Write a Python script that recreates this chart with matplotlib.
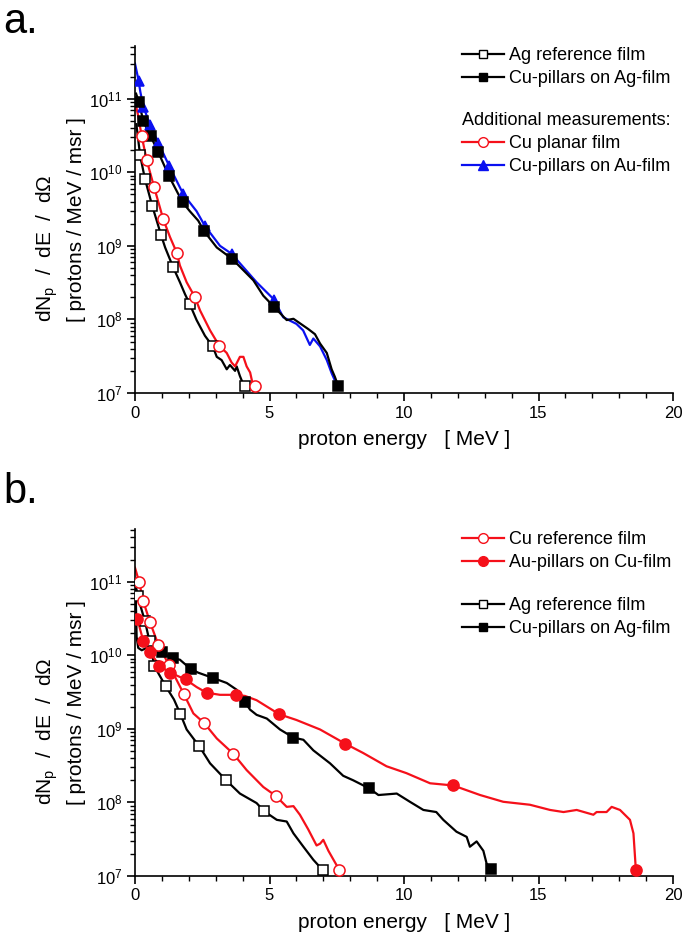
import matplotlib
matplotlib.use('Agg')
import matplotlib.pyplot as plt
from matplotlib.lines import Line2D
from matplotlib.ticker import LogLocator, MultipleLocator, NullFormatter

plt.rcParams['font.family'] = ['Liberation Sans', 'DejaVu Sans']
plt.rcParams['mathtext.fontset'] = 'custom'
plt.rcParams['mathtext.rm'] = 'Liberation Sans'
plt.rcParams['mathtext.it'] = 'Liberation Sans:italic'
plt.rcParams['mathtext.default'] = 'regular'

# ---------------- panel a data (energy in MeV, dN/dE/dOmega) ----------------
a_ag_ref_E = [0.05, 0.19, 0.37, 0.64, 0.97, 1.12, 1.42, 1.67, 1.86, 2.04, 2.29, 2.6, 2.89, 3.04,
              3.22, 3.41, 3.53, 3.72, 3.78, 3.9, 4.03, 4.1]
a_ag_ref_N = [4.5e10, 1.7e10, 8.1e9, 3.5e9, 1.4e9, 9.5e8, 5.1e8, 3.2e8, 2.2e8, 1.6e8, 9.8e7, 6.0e7,
              4.3e7, 3.1e7, 2.8e7, 2.1e7, 2.4e7, 2.0e7, 2.3e7, 1.7e7, 1.3e7, 1.23e7]
a_ag_ref_mE = [0.19, 0.37, 0.64, 0.97, 1.42, 2.04, 2.89, 4.1]
a_ag_ref_mN = [1.7e10, 8.1e9, 3.5e9, 1.4e9, 5.1e8, 1.6e8, 4.3e7, 1.23e7]

a_cu_ag_E = [0.04, 0.15, 0.31, 0.58, 0.87, 1.26, 1.77, 2.04, 2.35, 2.57, 3.04, 3.62, 4.4, 4.77,
             5.17, 5.64, 5.89, 6.44, 6.69, 6.88, 7.13, 7.31, 7.43, 7.56]
a_cu_ag_N = [1.17e11, 8.9e10, 4.9e10, 3.1e10, 1.86e10, 8.9e9, 3.9e9, 2.95e9, 2.2e9, 1.58e9, 9.5e8,
             6.6e8, 3.4e8, 2.1e8, 1.48e8, 9.8e7, 1.02e8, 7.4e7, 6.3e7, 4.7e7, 3.5e7, 2.1e7, 1.66e7, 1.23e7]
a_cu_ag_mE = [0.15, 0.31, 0.58, 0.87, 1.26, 1.77, 2.57, 3.62, 5.17, 7.56]
a_cu_ag_mN = [8.9e10, 4.9e10, 3.1e10, 1.86e10, 8.9e9, 3.9e9, 1.58e9, 6.6e8, 1.48e8, 1.23e7]

a_cu_planar_E = [0.0, 0.1, 0.25, 0.43, 0.71, 1.05, 1.3, 1.55, 1.67, 1.92, 2.23, 2.42, 2.79, 3.13,
                 3.41, 3.59, 3.72, 3.9, 4.03, 4.15, 4.28, 4.37, 4.46]
a_cu_planar_N = [9.1e10, 6.3e10, 3.1e10, 1.48e10, 6.3e9, 2.3e9, 1.32e9, 8.1e8, 5.4e8, 3.2e8, 2.0e8,
                 1.32e8, 7.1e7, 4.4e7, 3.5e7, 2.6e7, 2.3e7, 3.1e7, 3.1e7, 2.3e7, 1.9e7, 1.35e7, 1.23e7]
a_cu_planar_mE = [0.25, 0.43, 0.71, 1.05, 1.55, 2.23, 3.13, 4.46]
a_cu_planar_mN = [3.1e10, 1.48e10, 6.3e9, 2.3e9, 8.1e8, 2.0e8, 4.4e7, 1.23e7]

a_cu_au_E = [0.0, 0.12, 0.2, 0.31, 0.56, 0.87, 1.28, 1.8, 2.29, 2.6, 3.16, 3.59, 4.52, 5.17, 5.51,
             6.0, 6.25, 6.5, 6.63, 6.88, 7.13, 7.31, 7.49, 7.56]
a_cu_au_N = [3.0e11, 1.86e11, 1.23e11, 7.8e10, 4.4e10, 2.5e10, 1.2e10, 5.0e9, 2.95e9, 1.86e9, 1.0e9,
             7.8e8, 3.2e8, 1.86e8, 1.07e8, 8.7e7, 7.1e7, 4.5e7, 5.5e7, 4.3e7, 2.8e7, 1.86e7, 1.32e7, 1.23e7]
a_cu_au_mE = [0.16, 0.31, 0.56, 0.87, 1.28, 1.8, 2.6, 3.59, 5.17]
a_cu_au_mN = [1.74e11, 7.8e10, 4.4e10, 2.5e10, 1.2e10, 5.0e9, 1.86e9, 7.8e8, 1.86e8]

# ---------------- panel b data ----------------
b_cu_ref_E = [0.0, 0.15, 0.31, 0.56, 0.87, 1.26, 1.82, 2.17, 2.57, 3.04, 3.65, 4.15, 4.77, 5.23,
              5.64, 5.89, 6.13, 6.44, 6.75, 6.88, 7.0, 7.19, 7.38, 7.6]
b_cu_ref_N = [1.55e11, 1.0e11, 5.4e10, 2.8e10, 1.38e10, 7.4e9, 2.95e9, 1.62e9, 1.2e9, 7.4e8, 4.6e8,
              2.75e8, 1.62e8, 1.23e8, 8.7e7, 8.9e7, 6.8e7, 4.3e7, 2.6e7, 2.75e7, 3.1e7, 2.2e7, 1.66e7, 1.2e7]
b_cu_ref_mE = [0.15, 0.31, 0.56, 0.87, 1.26, 1.82, 2.57, 3.65, 5.23, 7.6]
b_cu_ref_mN = [1.0e11, 5.4e10, 2.8e10, 1.38e10, 7.4e9, 2.95e9, 1.2e9, 4.6e8, 1.23e8, 1.2e7]

b_au_cu_E = [0.04, 0.09, 0.31, 0.56, 0.9, 1.3, 1.88, 2.29, 2.66, 3.16, 3.75, 4.09, 4.52, 5.36, 6.0,
             6.88, 7.81, 8.48, 9.35, 10.09, 10.97, 11.83, 12.83, 13.69, 14.68, 15.43, 15.93, 16.42,
             17.04, 17.16, 17.53, 17.72, 18.03, 18.4, 18.53, 18.62]
b_au_cu_N = [3.2e10, 3.1e10, 1.55e10, 1.12e10, 7.2e9, 5.8e9, 4.7e9, 3.7e9, 3.1e9, 2.9e9, 2.9e9,
             2.8e9, 2.45e9, 1.58e9, 1.32e9, 9.8e8, 6.3e8, 4.7e8, 3.1e8, 2.5e8, 1.82e8, 1.7e8, 1.26e8,
             1.02e8, 9.3e7, 7.9e7, 7.4e7, 7.9e7, 6.8e7, 7.4e7, 7.4e7, 8.7e7, 7.9e7, 5.8e7, 3.8e7, 1.2e7]
b_au_cu_mE = [0.09, 0.31, 0.56, 0.9, 1.3, 1.88, 2.66, 3.75, 5.36, 7.81, 11.83, 18.62]
b_au_cu_mN = [3.1e10, 1.55e10, 1.12e10, 7.2e9, 5.8e9, 4.7e9, 3.1e9, 2.9e9, 1.58e9, 6.3e8, 1.7e8, 1.2e7]

b_ag_ref_E = [0.03, 0.1, 0.37, 0.54, 0.72, 1.14, 1.45, 1.69, 1.92, 2.17, 2.39, 2.79, 3.39, 3.9,
              4.52, 4.8, 5.27, 5.64, 5.89, 6.26, 6.63, 6.98]
b_ag_ref_N = [8.9e10, 6.3e10, 2.9e10, 1.55e10, 7.1e9, 3.8e9, 2.5e9, 1.58e9, 9.8e8, 7.4e8, 5.8e8,
              3.4e8, 2.0e8, 1.32e8, 9.8e7, 7.6e7, 5.8e7, 5.5e7, 3.8e7, 2.5e7, 1.66e7, 1.2e7]
b_ag_ref_mE = [0.1, 0.37, 0.54, 0.72, 1.14, 1.69, 2.39, 3.39, 4.8, 6.98]
b_ag_ref_mN = [6.3e10, 2.9e10, 1.55e10, 7.1e9, 3.8e9, 1.58e9, 5.8e8, 2.0e8, 7.6e7, 1.2e7]

b_cu_ag_E = [0.02, 0.06, 0.12, 0.25, 0.56, 0.99, 1.18, 1.42, 1.67, 2.07, 2.35, 2.91, 3.41, 3.78,
             4.09, 4.28, 4.52, 4.9, 5.39, 5.89, 6.26, 6.63, 7.25, 7.74, 8.11, 8.71, 9.05, 9.73, 10.22,
             10.72, 11.2, 11.46, 11.95, 12.33, 12.45, 12.7, 12.95, 13.07, 13.23]
b_cu_ag_N = [8.9e10, 1.78e10, 1.26e10, 1.17e10, 1.32e10, 1.1e10, 1.0e10, 9.1e9, 8.7e9, 6.5e9, 5.8e9,
             4.9e9, 4.2e9, 3.4e9, 2.3e9, 1.82e9, 1.55e9, 1.38e9, 9.8e8, 7.6e8, 7.1e8, 5.1e8, 3.4e8,
             2.3e8, 2.0e8, 1.55e8, 1.26e8, 1.32e8, 1.02e8, 7.9e7, 7.4e7, 5.8e7, 4.0e7, 3.4e7, 2.5e7,
             2.95e7, 2.2e7, 1.48e7, 1.23e7]
b_cu_ag_mE = [0.99, 1.42, 2.07, 2.91, 4.09, 5.89, 8.71, 13.23]
b_cu_ag_mN = [1.1e10, 9.1e9, 6.5e9, 4.9e9, 2.3e9, 7.6e8, 1.55e8, 1.23e7]

RED = '#f5101a'
BLUE = '#0a10f0'

W, H = 685, 942
fig = plt.figure(figsize=(W / 100, H / 100), dpi=100)


def make_axes(top_px, bottom_px):
    ax = fig.add_axes([135 / W, 1 - bottom_px / H, (673 - 135) / W, (bottom_px - top_px) / H])
    ax.set_yscale('log')
    ax.set_xlim(0, 20)
    ax.set_ylim(1e7, 5.2e11)
    for s in ['top', 'right']:
        ax.spines[s].set_visible(False)
    for s in ['left', 'bottom']:
        ax.spines[s].set_linewidth(1.2)
    ax.xaxis.set_major_locator(MultipleLocator(5))
    ax.xaxis.set_minor_locator(MultipleLocator(1))
    ax.yaxis.set_major_locator(LogLocator(base=10, numticks=10))
    ax.yaxis.set_minor_locator(LogLocator(base=10, subs=range(2, 10), numticks=20))
    ax.yaxis.set_minor_formatter(NullFormatter())
    ax.tick_params(which='major', direction='out', length=6, width=1.2, labelsize=12, pad=3)
    ax.tick_params(which='minor', direction='out', length=3.5, width=1.0)
    ax.set_xlabel('proton energy   [ MeV ]', fontsize=15, labelpad=7)
    return ax


def curve(ax, E, N, mE, mN, color, marker, filled, ms):
    # line first, then the few symbols Origin puts along it
    ax.plot(E, N, color=color, lw=1.6, zorder=2)
    ax.plot(mE, mN, ls='none', marker=marker, ms=ms, mec=color,
            mfc=color if filled else 'white', mew=1.1, zorder=3)


def handle(color, marker, filled, ms):
    return Line2D([], [], color=color, lw=1.6, marker=marker, ms=ms - 1, mec=color,
                  mfc=color if filled else 'white', mew=1.0)


leg_kw = dict(loc='upper left', frameon=False, fontsize=13, handlelength=2.3, handletextpad=0.3,
              labelspacing=0.33, borderpad=0, borderaxespad=0, numpoints=1)

# ---------------- panel a ----------------
ax_a = make_axes(46, 393)
curve(ax_a, a_cu_au_E, a_cu_au_N, a_cu_au_mE, a_cu_au_mN, BLUE, '^', True, 7.5)
curve(ax_a, a_cu_ag_E, a_cu_ag_N, a_cu_ag_mE, a_cu_ag_mN, 'black', 's', True, 7)
curve(ax_a, a_ag_ref_E, a_ag_ref_N, a_ag_ref_mE, a_ag_ref_mN, 'black', 's', False, 7)
curve(ax_a, a_cu_planar_E, a_cu_planar_N, a_cu_planar_mE, a_cu_planar_mN, RED, 'o', False, 8)

leg1 = ax_a.legend([handle('black', 's', False, 7), handle('black', 's', True, 7)],
                   ['Ag reference film', 'Cu-pillars on Ag-film'],
                   bbox_to_anchor=(462 / W, 1 - 47 / H), bbox_transform=fig.transFigure, **leg_kw)
ax_a.add_artist(leg1)
ax_a.legend([handle(RED, 'o', False, 8), handle(BLUE, '^', True, 7.5)],
            ['Cu planar film', 'Cu-pillars on Au-film'], title='Additional measurements:',
            title_fontsize=13, alignment='left',
            bbox_to_anchor=(462 / W, 1 - 112 / H), bbox_transform=fig.transFigure, **leg_kw)

# ---------------- panel b ----------------
ax_b = make_axes(529, 876)
curve(ax_b, b_ag_ref_E, b_ag_ref_N, b_ag_ref_mE, b_ag_ref_mN, 'black', 's', False, 7)
curve(ax_b, b_cu_ag_E, b_cu_ag_N, b_cu_ag_mE, b_cu_ag_mN, 'black', 's', True, 7)
curve(ax_b, b_cu_ref_E, b_cu_ref_N, b_cu_ref_mE, b_cu_ref_mN, RED, 'o', False, 8)
curve(ax_b, b_au_cu_E, b_au_cu_N, b_au_cu_mE, b_au_cu_mN, RED, 'o', True, 8)

leg3 = ax_b.legend([handle(RED, 'o', False, 8), handle(RED, 'o', True, 8)],
                   ['Cu reference film', 'Au-pillars on Cu-film'],
                   bbox_to_anchor=(462 / W, 1 - 531 / H), bbox_transform=fig.transFigure, **leg_kw)
ax_b.add_artist(leg3)
ax_b.legend([handle('black', 's', False, 7), handle('black', 's', True, 7)],
            ['Ag reference film', 'Cu-pillars on Ag-film'],
            bbox_to_anchor=(462 / W, 1 - 597 / H), bbox_transform=fig.transFigure, **leg_kw)

# y labels (two lines, bottom-aligned like the original) and panel letters
for bottom_px in [322, 805]:
    fig.text(47 / W, 1 - bottom_px / H, 'dN$_p$  /  dE  /  d\u03a9', rotation=90,
             ha='center', va='bottom', fontsize=15)
    fig.text(76 / W, 1 - bottom_px / H, '[ protons / MeV / msr ]', rotation=90,
             ha='center', va='bottom', fontsize=15)

fig.text(3 / W, 1 - 33 / H, 'a.', fontsize=30, va='baseline')
fig.text(3 / W, 1 - 503 / H, 'b.', fontsize=30, va='baseline')

fig.savefig('out.png', dpi=100)
